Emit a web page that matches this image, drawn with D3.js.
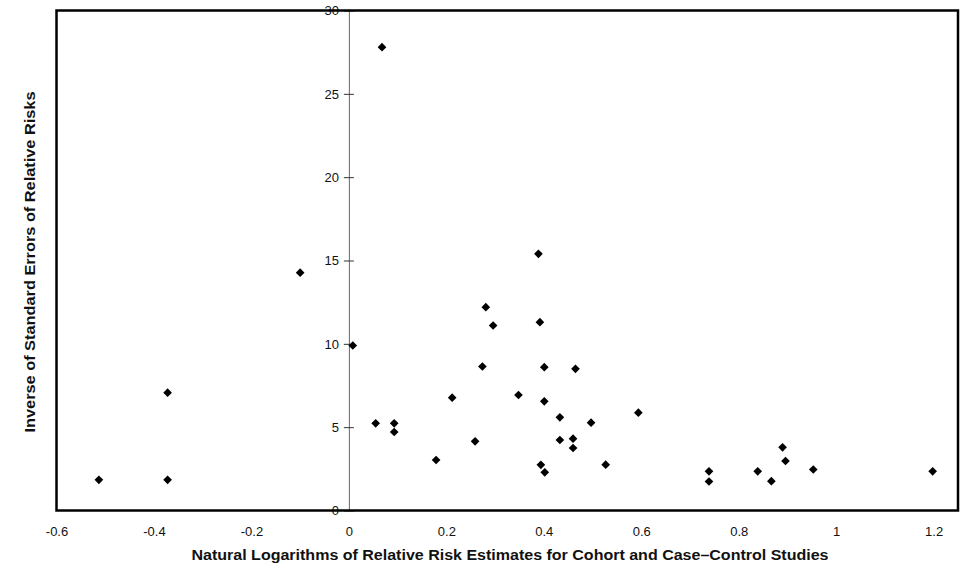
<!DOCTYPE html>
<html>
<head>
<meta charset="utf-8">
<script src="https://cdn.jsdelivr.net/npm/d3@7"></script>
<style>
  html, body { margin: 0; padding: 0; background: #fff; }
  svg { display: block; font-family: "Liberation Sans", Arial, sans-serif; }
</style>
</head>
<body>
<svg id="chart" width="966" height="569"></svg>
<script>
// Natural log of relative risk estimates (x) and inverse standard errors (y)
const logRR = [
  -0.513, -0.372, -0.372, -0.100, 0.008, 0.055, 0.068, 0.093, 0.093, 0.179,
  0.212, 0.259, 0.274, 0.281, 0.296, 0.348, 0.389, 0.392, 0.394, 0.401,
  0.401, 0.402, 0.433, 0.433, 0.460, 0.460, 0.465, 0.497, 0.527, 0.594,
  0.739, 0.739, 0.839, 0.867, 0.890, 0.896, 0.953, 1.198
];
const invSE = [
  1.84, 1.84, 7.07, 14.27, 9.9, 5.23, 27.8, 5.23, 4.71, 3.03,
  6.77, 4.15, 8.64, 12.2, 11.1, 6.93, 15.4, 11.3, 2.74, 8.6,
  6.55, 2.29, 5.59, 4.23, 4.31, 3.75, 8.5, 5.27, 2.75, 5.87,
  2.35, 1.74, 2.35, 1.76, 3.79, 2.97, 2.46, 2.35
];
const xTicks = [-0.6, -0.4, -0.2, 0, 0.2, 0.4, 0.6, 0.8, 1, 1.2];
const yTicks = [0, 5, 10, 15, 20, 25, 30];
const xTitle = "Natural Logarithms of Relative Risk Estimates for Cohort and Case\u2013Control Studies";
const yTitle = "Inverse of Standard Errors of Relative Risks";

const svg = d3.select("#chart");
const plot = { left: 56.5, right: 958, top: 10.5, bottom: 510.5 };

const x = d3.scaleLinear().domain([-0.6, 1.25]).range([plot.left, plot.right]);
const y = d3.scaleLinear().domain([0, 30]).range([plot.bottom, plot.top]);

// Vertical axis drawn through x = 0, with ticks crossing the line
const yAxis = svg.append("g")
  .attr("transform", `translate(${x(0)},0)`)
  .call(d3.axisLeft(y).tickValues(yTicks).tickSizeInner(5).tickSizeOuter(0).tickPadding(5)
    .tickFormat(d3.format("d")));
yAxis.select(".domain").attr("stroke", "#666").attr("stroke-width", 1);
yAxis.selectAll(".tick line").attr("x1", 5).attr("stroke", "#333").attr("stroke-width", 1);
yAxis.selectAll(".tick text")
  .attr("font-size", 13).attr("fill", "#111")
  .attr("font-family", "'Liberation Sans', Arial, sans-serif");

// Horizontal tick labels along the bottom of the frame
const xAxis = svg.append("g")
  .attr("transform", `translate(0,${plot.bottom})`)
  .call(d3.axisBottom(x).tickValues(xTicks).tickSize(0).tickPadding(16)
    .tickFormat(d => String(d)));
xAxis.select(".domain").remove();
xAxis.selectAll(".tick text")
  .attr("font-size", 13).attr("fill", "#111")
  .attr("font-family", "'Liberation Sans', Arial, sans-serif");

// Plot frame
svg.append("rect")
  .attr("x", plot.left).attr("y", plot.top)
  .attr("width", plot.right - plot.left).attr("height", plot.bottom - plot.top)
  .attr("fill", "none").attr("stroke", "#000").attr("stroke-width", 2.5);

// Diamond markers
const diamond = d3.symbol().type(d3.symbolDiamond2).size(48);
svg.append("g").selectAll("path")
  .data(d3.zip(logRR, invSE))
  .join("path")
  .attr("transform", d => `translate(${x(d[0])},${y(d[1])})`)
  .attr("d", diamond)
  .attr("fill", "#000");

// Axis titles
svg.append("text")
  .attr("x", 510).attr("y", 560)
  .attr("text-anchor", "middle")
  .attr("font-size", 14).attr("font-weight", "bold").attr("fill", "#111")
  .attr("textLength", 637).attr("lengthAdjust", "spacingAndGlyphs")
  .text(xTitle);

svg.append("text")
  .attr("transform", "translate(35,262) rotate(-90)")
  .attr("text-anchor", "middle")
  .attr("font-size", 14).attr("font-weight", "bold").attr("fill", "#111")
  .attr("textLength", 341).attr("lengthAdjust", "spacingAndGlyphs")
  .text(yTitle);
</script>
</body>
</html>
